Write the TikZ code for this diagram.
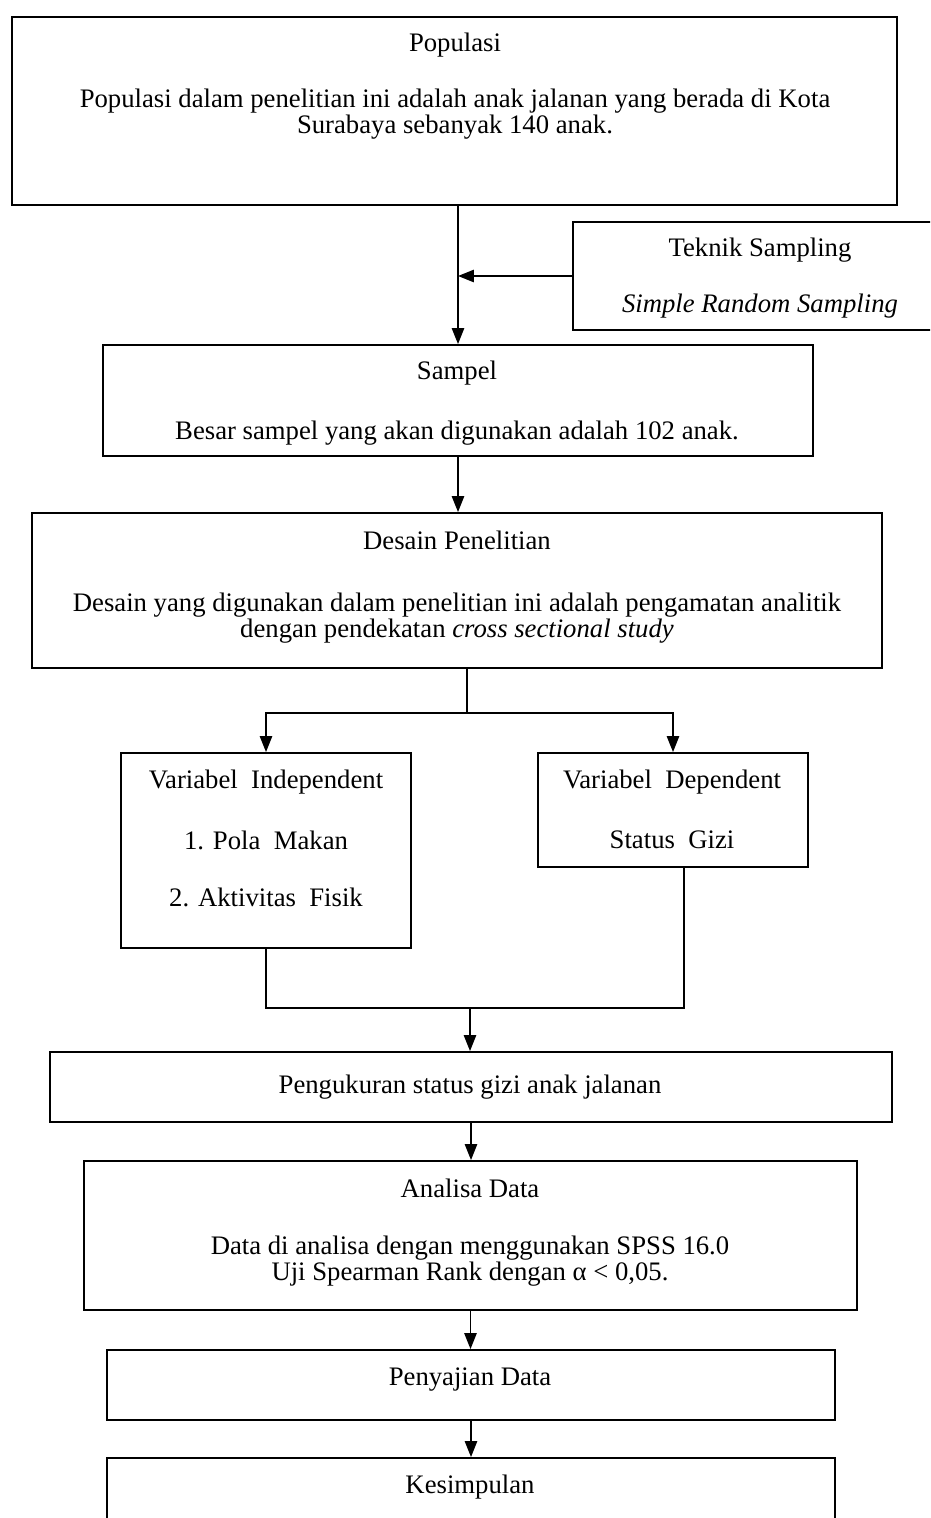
\documentclass[tikz,border=0pt]{standalone}
\usepackage{fontspec}
\setmainfont{Liberation Serif}
\usetikzlibrary{positioning,fit,arrows.meta}

\tikzset{
	box/.style={draw, line width=1.1pt, inner sep=0pt},
	txt/.style={align=center, inner sep=0pt, font=\fontsize{15.2}{14.6}\selectfont},
	flow/.style={-{Triangle[length=9pt,width=7pt]}, line width=0.8pt},
	link/.style={line width=0.8pt},
}

\begin{document}
\begin{tikzpicture}[x=0.02cm, y=-0.02cm]
	\path[use as bounding box, clip] (0,0) rectangle (930,1518);
	
	% boxes
	\node[box, fit={(12,17)(897,205)}] (pop) {};
	\node[box, fit={(573,222)(945,330)}] (tek) {};
	\node[box, fit={(103,345)(813,456)}] (samp) {};
	\node[box, fit={(32,513)(882,668)}] (des) {};
	\node[box, fit={(121,753)(411,948)}] (indep) {};
	\node[box, fit={(538,753)(808,867)}] (dep) {};
	\node[box, fit={(50,1052)(892,1122)}] (meas) {};
	\node[box, fit={(84,1161)(857,1310)}] (ana) {};
	\node[box, fit={(107,1350)(835,1420)}] (pen) {};
	\node[box, fit={(107,1458)(835,1560)}] (kes) {};
	
	% texts
	\node[txt] (popT) at (455,45) {Populasi};
	\node[txt] (popB) at (455,114) {Populasi dalam penelitian ini adalah anak jalanan yang berada di Kota\\ Surabaya sebanyak 140 anak.};
	\node[txt] (tekT) at (760,250) {Teknik Sampling};
	\node[txt] (tekB) at (760,306) {\itshape Simple Random Sampling};
	\node[txt] (sampT) at (457,373) {Sampel};
	\node[txt] (sampB) at (457,433) {Besar sampel yang akan digunakan adalah 102 anak.};
	\node[txt] (desT) at (457,540) {Desain Penelitian};
	\node[txt] (desB) at (457,618) {Desain yang digunakan dalam penelitian ini adalah pengamatan analitik\\ dengan pendekatan \textit{cross sectional study}};
	\node[txt] (indepT) at (266,782) {Variabel~~Independent};
	\node[txt] (indep1) at (266,840) {1. Pola~~Makan};
	\node[txt] (indep2) at (266,897) {2. Aktivitas~~Fisik};
	\node[txt] (depT) at (672,782) {Variabel~~Dependent};
	\node[txt] (dep1) at (672,840) {Status~~Gizi};
	\node[txt] (measT) at (470,1087) {Pengukuran status gizi anak jalanan};
	\node[txt] (anaT) at (470,1188) {Analisa Data};
	\node[txt] (anaB) at (470,1261) {Data di analisa dengan menggunakan SPSS 16.0\\ Uji Spearman Rank dengan α < 0,05.};
	\node[txt] (penT) at (470,1380) {Penyajian Data};
	\node[txt] (kesT) at (470,1487) {Kesimpulan};
	
	% junctions
	\coordinate (split) at (467,713);
	\coordinate (join) at (470,1008);
	\coordinate (rjoin) at (684,1008);
	
	% connectors
	\draw[flow] (pop.south -| samp.north) -- (samp.north);
	\draw[flow] (tek.west) -- (tek.west -| samp.north);
	\draw[flow] (samp.south) -- (samp.south |- des.north);
	\draw[link] (des.south -| split) -- (split);
	\draw[flow] (split) -| (indep.north);
	\draw[flow] (split) -| (dep.north);
	\draw[link] (indep.south) |- (rjoin) -- (rjoin |- dep.south);
	\draw[flow] (join) -- (join |- meas.north);
	\draw[flow] (meas.south) -- (meas.south |- ana.north);
	\draw[flow] (ana.south) -- (ana.south |- pen.north);
	\draw[flow] (pen.south) -- (kes.north);
\end{tikzpicture}
\end{document}
